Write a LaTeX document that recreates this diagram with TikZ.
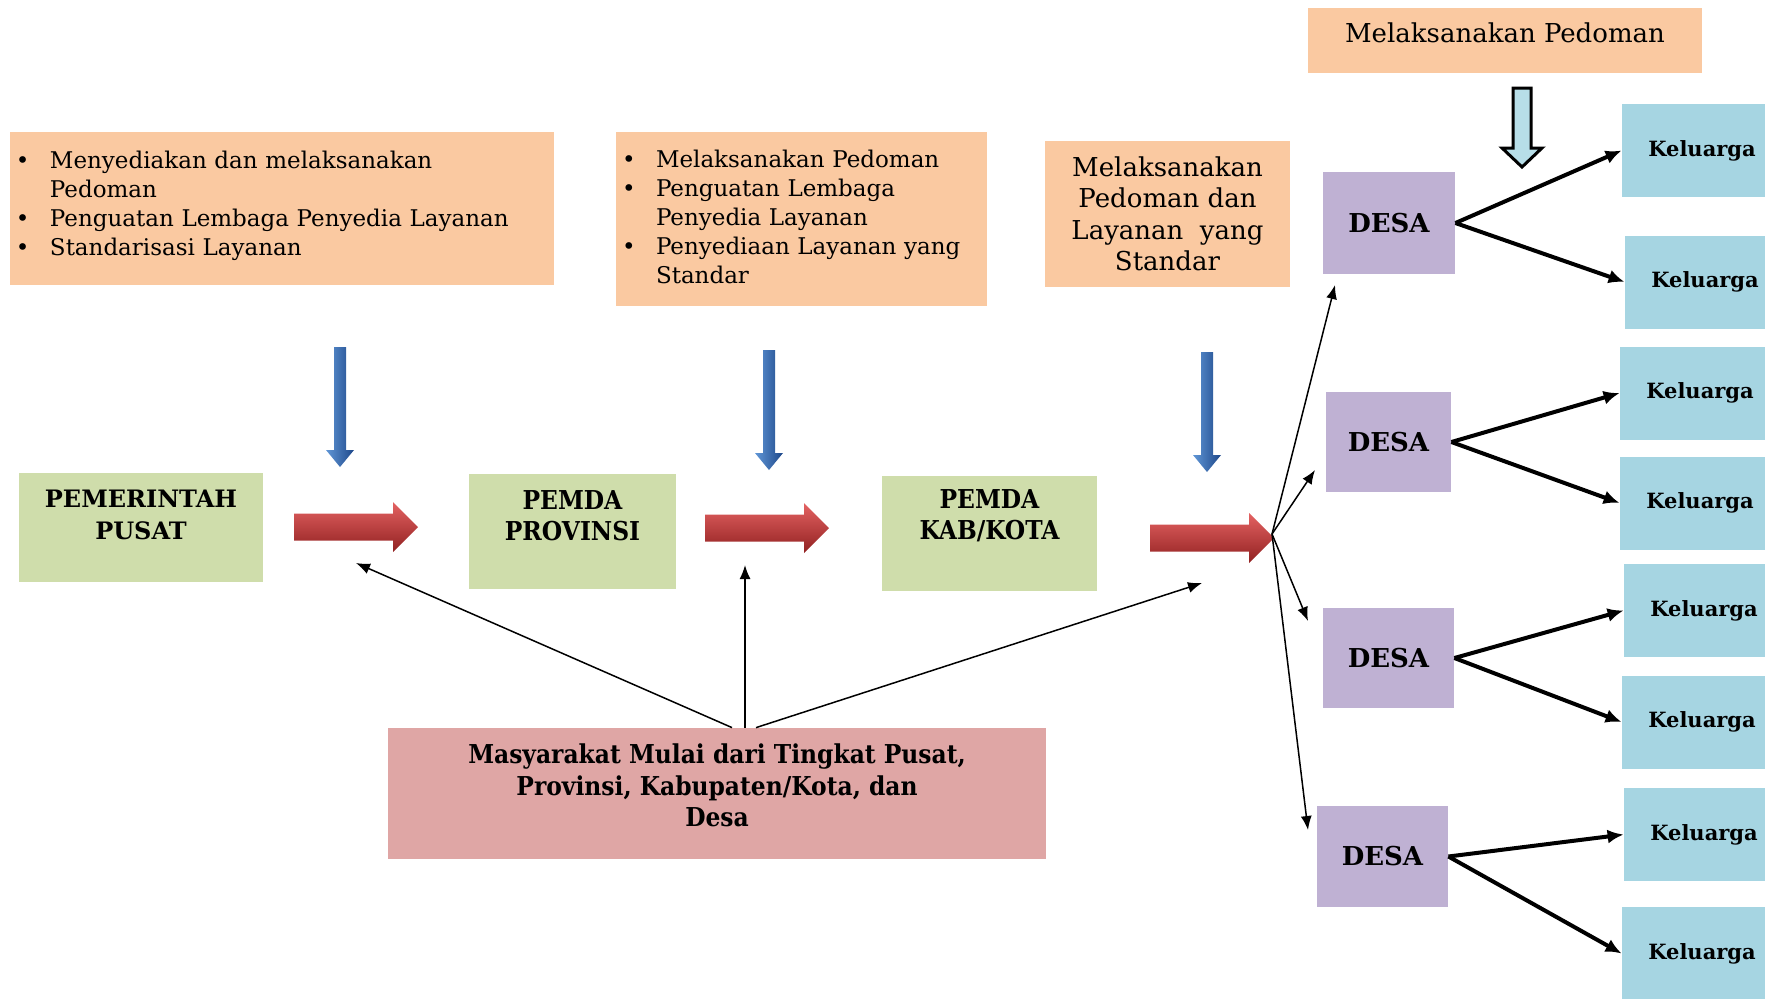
\documentclass[tikz,border=0pt]{standalone}
\usepackage{fontspec}
\setmainfont{DejaVu Serif}
\newfontfamily\condfont{DejaVu Serif Condensed}
\usepackage{enumitem}
\setlist[itemize]{leftmargin=17pt, labelwidth=10pt, labelsep=7pt, align=left, label=\textbullet, nosep}
\usetikzlibrary{arrows.meta}

\definecolor{peach}{HTML}{FAC9A1}
\definecolor{leaf}{HTML}{CFDDAB}
\definecolor{rose}{HTML}{DFA6A5}
\definecolor{lilac}{HTML}{BFB1D3}
\definecolor{sky}{HTML}{A6D5E2}
\definecolor{hollowblue}{HTML}{B7DEE8}

\tikzset{
  peachbox/.style={fill=peach, inner xsep=3pt, inner ysep=0pt, font=\fontsize{11.5}{14.5}\selectfont},
  notebox/.style={fill=peach, align=center, font=\fontsize{13}{15.75}\selectfont},
  govbox/.style={fill=leaf, align=center, font=\condfont\bfseries\fontsize{13}{15.75}\selectfont},
  desabox/.style={fill=lilac, font=\bfseries\fontsize{13}{15}\selectfont},
  kelbox/.style={fill=sky, minimum width=80pt, minimum height=46.5pt, font=\bfseries\fontsize{10.5}{12}\selectfont},
  redarrow/.style={top color={rgb,255:red,228;green,98;blue,98}, middle color={rgb,255:red,206;green,56;blue,56}, bottom color={rgb,255:red,145;green,33;blue,33}},
  bluearrow/.style={left color={rgb,255:red,96;green,150;blue,214}, middle color={rgb,255:red,52;green,112;blue,186}, right color={rgb,255:red,30;green,72;blue,138}},
  thinarr/.style={-{Latex[length=7pt,width=5.5pt]}, line width=0.75pt},
  thickarr/.style={-{Latex[length=8pt,width=7pt]}, line width=2pt}
}

\begin{document}
\begin{tikzpicture}[x=0.5pt, y=-0.5pt]
\useasboundingbox (0,0) rectangle (1765,998);
\clip (0,0) rectangle (1765,998);

% guideline boxes
\node[peachbox, text width=266pt, minimum height=76.5pt] (gpusat) at (282,208.5) {%
  \begin{itemize}
    \item Menyediakan dan melaksanakan\newline Pedoman
    \item Penguatan Lembaga Penyedia Layanan
    \item Standarisasi Layanan
  \end{itemize}\par\nointerlineskip\vbox to 8pt{}};
\node[peachbox, text width=179.5pt, minimum height=87pt] (gprov) at (801.5,219) {%
  \begin{itemize}
    \item Melaksanakan Pedoman
    \item Penguatan Lembaga\newline Penyedia Layanan
    \item Penyediaan Layanan yang\newline Standar
  \end{itemize}\par\nointerlineskip\vbox to 8pt{}};
\node[notebox, minimum width=122.5pt, minimum height=73pt] (gkab) at (1167.5,214) {Melaksanakan\\Pedoman dan\\Layanan\ \ yang\\Standar};
\node[notebox, minimum width=197pt, minimum height=32.5pt] (gdesa) at (1505,40.5) {\raisebox{4pt}[\height][\depth]{Melaksanakan Pedoman}};

% government levels
\node[govbox, font=\bfseries\fontsize{12}{15.75}\selectfont, minimum width=122pt, minimum height=54.5pt] (pusat) at (141,527.5) {PEMERINTAH\\PUSAT\\[-2.75pt]\mbox{}};
\node[govbox, minimum width=103.5pt, minimum height=57.5pt] (prov) at (572.5,531.5) {PEMDA\\PROVINSI\\\mbox{}};
\node[govbox, minimum width=107.5pt, minimum height=57.5pt] (kab) at (989.5,533.5) {PEMDA\\KAB/KOTA\\[3pt]\mbox{}};
\node[govbox, fill=rose, minimum width=329pt, minimum height=65.5pt] (masy) at (717,793.5) {Masyarakat Mulai dari Tingkat Pusat,\\Provinsi, Kabupaten/Kota, dan\\Desa\\[-7.75pt]\mbox{}};

% desa
\node[desabox, minimum width=66pt, minimum height=51pt] (desa1) at (1389,223) {DESA};
\node[desabox, minimum width=62.5pt, minimum height=50pt] (desa2) at (1388.5,442) {DESA};
\node[desabox, minimum width=65.5pt, minimum height=50pt] (desa3) at (1388.5,658) {DESA};
\node[desabox, minimum width=65.5pt, minimum height=50.5pt] (desa4) at (1382.5,856.5) {DESA};

% keluarga
\node[kelbox] (kel1) at (1702,150.5) {Keluarga};
\node[kelbox] (kel2) at (1705,282) {Keluarga};
\node[kelbox] (kel3) at (1700,393) {Keluarga};
\node[kelbox] (kel4) at (1700,503) {Keluarga};
\node[kelbox] (kel5) at (1704,610.5) {Keluarga};
\node[kelbox] (kel6) at (1702,722) {Keluarga};
\node[kelbox] (kel7) at (1704,834.5) {Keluarga};
\node[kelbox] (kel8) at (1702,953.5) {Keluarga};

% block arrows
\shade[redarrow] (294,513.5) -- ++(99,0) -- ++(0,-11.5) -- ++(25,25) -- ++(-25,25) -- ++(0,-11.5) -- ++(-99,0) -- cycle;
\shade[redarrow] (705,514.5) -- ++(99,0) -- ++(0,-11.5) -- ++(25,25) -- ++(-25,25) -- ++(0,-11.5) -- ++(-99,0) -- cycle;
\shade[redarrow] (1150,524.5) -- ++(99,0) -- ++(0,-11.5) -- ++(25,25) -- ++(-25,25) -- ++(0,-11.5) -- ++(-99,0) -- cycle;
\shade[bluearrow] (334,347) -- ++(12,0) -- ++(0,103) -- ++(8,0) -- ++(-14,17) -- ++(-14,-17) -- ++(8,0) -- cycle;
\shade[bluearrow] (763,350) -- ++(12,0) -- ++(0,103) -- ++(8,0) -- ++(-14,17) -- ++(-14,-17) -- ++(8,0) -- cycle;
\shade[bluearrow] (1201,352) -- ++(12,0) -- ++(0,103) -- ++(8,0) -- ++(-14,17) -- ++(-14,-17) -- ++(8,0) -- cycle;
\filldraw[fill=hollowblue, line width=1.5pt] (1513,88) -- (1531,88) -- (1531,148) -- (1542,148) -- (1522,167) -- (1502,148) -- (1513,148) -- cycle;

% free ends
\coordinate (m1) at (356,563);
\coordinate (m2) at (745,565);
\coordinate (m3) at (1202,583);
\coordinate (kabtip) at (1272,534);
\coordinate (f1) at (1335,285);
\coordinate (f2) at (1315,470);
\coordinate (f3) at (1308,621);
\coordinate (f4) at (1308,830);

\draw[thinarr] ([xshift=7.5pt]masy.north) -- (m1);
\draw[thinarr] ([xshift=14pt]masy.north) -- (m2);
\draw[thinarr] ([xshift=19.5pt]masy.north) -- (m3);

\draw[thinarr] (kabtip) -- (f1);
\draw[thinarr] (kabtip) -- (f2);
\draw[thinarr] (kabtip) -- (f3);
\draw[thinarr] (kabtip) -- (f4);

\draw[thickarr] (desa1.east) -- (kel1.west);
\draw[thickarr] (desa1.east) -- (kel2.west);
\draw[thickarr] (desa2.east) -- (kel3.west);
\draw[thickarr] (desa2.east) -- (kel4.west);
\draw[thickarr] (desa3.east) -- (kel5.west);
\draw[thickarr] (desa3.east) -- (kel6.west);
\draw[thickarr] (desa4.east) -- (kel7.west);
\draw[thickarr] (desa4.east) -- (kel8.west);
\end{tikzpicture}
\end{document}
